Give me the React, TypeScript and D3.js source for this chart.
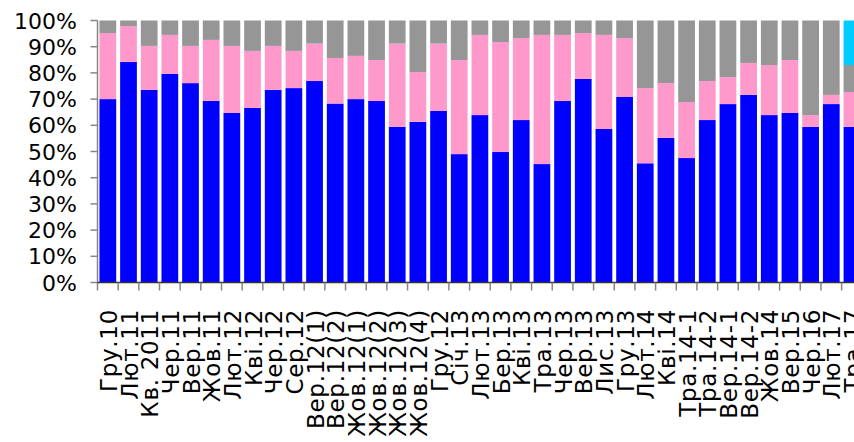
import React from "react";
import * as d3 from "d3";

const categories = [
  "Гру.10", "Лют.11", "Кв. 2011", "Чер.11", "Вер.11", "Жов.11", "Лют.12", "Кві.12",
  "Чер.12", "Сер.12", "Вер.12(1)", "Вер.12(2)", "Жов.12(1)", "Жов.12(2)", "Жов.12(3)",
  "Жов.12(4)", "Гру.12", "Січ.13", "Лют.13", "Бер.13", "Кві.13", "Тра.13", "Чер.13",
  "Вер.13", "Лис.13", "Гру.13", "Лют.14", "Кві.14", "Тра.14-1", "Тра.14-2", "Вер.14-1",
  "Вер.14-2", "Жов.14", "Вер.15", "Чер.16", "Лют.17", "Тра.17",
];

const blueValues = [
  70.0, 84.2, 73.5, 79.6, 76.1, 69.3, 64.7, 66.6, 73.5, 74.2, 76.9, 68.3, 70.0, 69.3, 59.4,
  61.3, 65.5, 49.0, 63.9, 49.8, 62.0, 45.2, 69.3, 77.7, 58.6, 70.8, 45.5, 55.2, 47.5, 62.0,
  68.1, 71.6, 63.9, 64.7, 59.4, 68.1, 59.4,
];
const pinkValues = [
  25.2, 13.7, 16.8, 14.9, 14.2, 23.3, 25.6, 21.8, 16.8, 14.2, 14.3, 17.4, 16.5, 15.6, 31.8,
  19.0, 25.7, 35.9, 30.6, 42.0, 31.3, 49.3, 25.2, 17.5, 35.9, 22.5, 28.7, 20.9, 21.4, 14.9,
  10.3, 12.2, 19.1, 20.2, 4.5, 3.5, 13.3,
];
const grayValues = [
  4.8, 2.1, 9.7, 5.5, 9.7, 7.4, 9.7, 11.6, 9.7, 11.6, 8.8, 14.3, 13.5, 15.1, 8.8,
  19.7, 8.8, 15.1, 5.5, 8.2, 6.7, 5.5, 5.5, 4.8, 5.5, 6.7, 25.8, 23.9, 31.1, 23.1,
  21.6, 16.2, 17.0, 15.1, 36.1, 28.4, 10.3,
];
const cyanValues = [
  0, 0, 0, 0, 0, 0, 0, 0, 0, 0, 0, 0, 0, 0, 0, 0, 0, 0, 0, 0, 0, 0, 0, 0, 0, 0, 0, 0, 0, 0,
  0, 0, 0, 0, 0, 0, 17.0,
];
const yTicks = [0, 10, 20, 30, 40, 50, 60, 70, 80, 90, 100];

const seriesKeys = ["blue", "pink", "gray", "cyan"];
const seriesColors: Record<string, string> = {
  blue: "#0000FF",
  pink: "#FF99CC",
  gray: "#969696",
  cyan: "#00CCFF",
};

export default function App() {
  const W = 854;
  const H = 442;
  const x0 = 97.5;
  const step = 20.67;
  const n = categories.length;

  const rows = categories.map((c, i) => ({
    cat: c,
    blue: blueValues[i],
    pink: pinkValues[i],
    gray: grayValues[i],
    cyan: cyanValues[i],
  }));
  const stacked = d3.stack<any>().keys(seriesKeys)(rows);

  const x = d3
    .scaleBand<string>()
    .domain(categories)
    .range([x0, x0 + n * step])
    .paddingInner(0.19)
    .paddingOuter(0.095);
  const y = d3.scaleLinear().domain([0, 100]).range([282.5, 20.5]);

  const font = "'DejaVu Sans', Verdana, sans-serif";
  const axisColor = "#868686";

  return (
    <svg
      width={W}
      height={H}
      style={{ position: "absolute", left: 0, top: 0, background: "#fff" }}
    >
      {stacked.map((s) => (
        <g key={s.key} fill={seriesColors[s.key]}>
          {s.map((d, i) =>
            d[1] - d[0] > 0 ? (
              <rect
                key={i}
                x={x(categories[i])}
                y={y(d[1])}
                width={x.bandwidth()}
                height={y(d[0]) - y(d[1])}
              />
            ) : null
          )}
        </g>
      ))}

      {/* Y axis */}
      <line x1={x0} x2={x0} y1={y(100)} y2={y(0) + 8} stroke={axisColor} strokeWidth={1.5} />
      {yTicks.map((t) => (
        <g key={t}>
          <line x1={x0 - 7} x2={x0} y1={y(t)} y2={y(t)} stroke={axisColor} strokeWidth={1.5} />
          <text
            x={77}
            y={y(t)}
            dy="0.37em"
            textAnchor="end"
            fontFamily={font}
            fontSize={22}
            fill="#000"
          >
            {t}%
          </text>
        </g>
      ))}

      {/* X axis */}
      <line x1={x0} x2={x0 + n * step} y1={y(0)} y2={y(0)} stroke="#333" strokeWidth={1.5} />
      {d3.range(1, n + 1).map((i) => (
        <line
          key={i}
          x1={x0 + i * step}
          x2={x0 + i * step}
          y1={y(0)}
          y2={y(0) + 8}
          stroke={axisColor}
          strokeWidth={1.5}
        />
      ))}
      {categories.map((c) => {
        const cx = (x(c) as number) + x.bandwidth() / 2;
        return (
          <text
            key={c}
            transform={`translate(${cx},309) rotate(-90)`}
            dy="0.4em"
            textAnchor="end"
            fontFamily={font}
            fontSize={23}
            letterSpacing={0.7}
            fill="#000"
          >
            {c}
          </text>
        );
      })}
    </svg>
  );
}
